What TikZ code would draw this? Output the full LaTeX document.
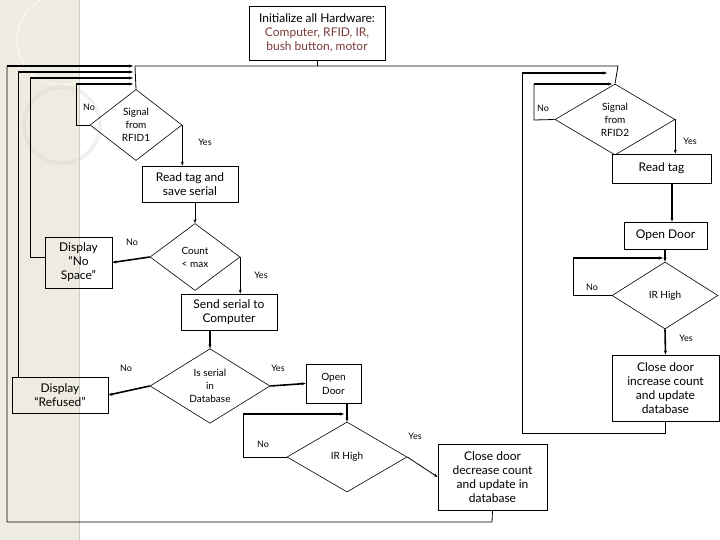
\documentclass[tikz,border=0pt]{standalone}
\usepackage{fontspec}
\setmainfont{Lato}
\usetikzlibrary{shapes.geometric,arrows.meta}
\definecolor{strip}{HTML}{EEECE0}
\definecolor{brn}{HTML}{7A3A3A}
\begin{document}
\begin{tikzpicture}[x=1pt,y=-1pt,
  box/.style={draw,line width=0.8pt,align=center,inner sep=1pt,font=\fontsize{12}{16}\selectfont},
  dia/.style={draw,diamond,line width=0.6pt,align=center,inner sep=0pt,font=\fontsize{10}{13}\selectfont},
  lbl/.style={font=\fontsize{9}{11}\selectfont},
  arr/.style={-{Stealth[length=4pt,width=3pt]},line width=0.8pt},
  thk/.style={-{Stealth[length=4pt,width=3pt]},line width=1.6pt},
  ln/.style={line width=0.8pt}]
\useasboundingbox (0,0) rectangle (720,540);
\fill[strip] (0,0) rectangle (79,540);
\draw[gray!40,line width=1pt] (79,0) -- (79,540);
\draw[white,line width=1pt,opacity=0.7] (62,40) circle (45);
\draw[strip!80!gray,line width=4pt,opacity=0.35] (62,125) circle (38);
% nodes
\node[box,minimum width=136pt,minimum height=54pt] (init) at (317,33) {Initialize all Hardware:\\[-2pt]\textcolor{brn}{Computer, RFID, IR,}\\[-2pt]\textcolor{brn}{bush button, motor}};
\node[dia,minimum width=92pt,minimum height=71pt] (s1) at (136,125) {Signal\\from\\RFID1};
\node[box,minimum width=96pt,minimum height=36pt] (rt) at (190,184) {Read tag and\\[-2pt]save serial};
\node[dia,minimum width=90pt,minimum height=67pt] (cnt) at (195,257) {Count\\< max};
\node[box,minimum width=67pt,minimum height=51pt] (nsp) at (78.5,262.5) {Display\\[-2pt]“No\\[-2pt]Space”};
\node[box,minimum width=96pt,minimum height=36pt] (send) at (229,312) {Send serial to\\[-2pt]Computer};
\node[dia,minimum width=120pt,minimum height=72pt] (db) at (210,386) {Is serial\\in\\Database};
\node[box,minimum width=96pt,minimum height=36pt] (ref) at (60,395) {Display\\[-2pt]“Refused”};
\node[box,minimum width=55pt,minimum height=39pt,font=\fontsize{10}{14}\selectfont] (od1) at (333.5,383.5) {Open\\Door};
\node[dia,minimum width=120pt,minimum height=70pt] (ir1) at (347,457) {IR High};
\node[box,minimum width=109pt,minimum height=66pt] (dec) at (492.5,477) {Close door\\[-2pt]decrease count\\[-2pt]and update in\\[-2pt]database};
\node[dia,minimum width=120pt,minimum height=71pt] (s2) at (615,119.5) {Signal\\from\\RFID2};
\node[box,minimum width=99pt,minimum height=29pt] (rt2) at (661.5,168.5) {Read tag};
\node[box,minimum width=83pt,minimum height=27pt] (od2) at (665.5,235.5) {Open Door};
\node[dia,minimum width=106pt,minimum height=67pt] (ir2) at (665,295.5) {IR High};
\node[box,minimum width=107pt,minimum height=66pt] (inc) at (665.5,388) {Close door\\[-2pt]increase count\\[-2pt]and update\\[-2pt]database};
% labels
\node[lbl] at (89,107) {No};
\node[lbl] at (205,142) {Yes};
\node[lbl] at (132,242) {No};
\node[lbl] at (261,275) {Yes};
\node[lbl] at (126,368) {No};
\node[lbl] at (278,368) {Yes};
\node[lbl] at (263,444) {No};
\node[lbl] at (415,436) {Yes};
\node[lbl] at (543,108) {No};
\node[lbl] at (690,141) {Yes};
\node[lbl] at (592,287) {No};
\node[lbl] at (686,338) {Yes};
% coordinates
\coordinate (j1) at (135,66);
\coordinate (j2) at (618,66);
% top distribution
\draw[ln] (init.south) -- (init.south |- j1);
\draw[ln] (j1) -- (j2) -- (s2.north);
\draw[ln] (j1) -- (s1.north);
% RFID1 branch
\draw[ln] (s1.west) -- (76,125) -- (76,84);
\draw[thk] (76,84) -- (133,84);
\draw[thk] (s1.east) -- (rt.north -| s1.east);
\draw[arr] (rt.south -| cnt.north) -- (cnt.north);
\draw[thk] (cnt.west) -- (nsp.east);
\draw[ln] (nsp.west) ++(0,-5) -- (30,257.5) -- (30,78);
\draw[thk] (30,78) -- (133,78);
\draw[arr] (cnt.east) -- (send.north -| cnt.east);
\draw[thk] (send.south -| db.north) -- (db.north);
\draw[thk] (db.west) -- (ref.east);
\draw[ln] (18,377) -- (18,72);
\draw[thk] (18,72) -- (133,72);
\draw[thk] (db.east) -- (od1.west);
\draw[thk] (od1.south -| ir1.north) -- (ir1.north);
\draw[ln] (ir1.west) -- (243,457) -- (243,414);
\draw[thk] (243,414) -- (344,414);
\draw[arr] (ir1.east) -- (dec.west);
\draw[ln] (dec.south) -- (492,522) -- (7,522) -- (7,66);
\draw[thk] (7,66) -- (133,66);
% RFID2 branch
\draw[ln] (s2.west) -- (534,120) -- (534,84);
\draw[thk] (534,84) -- (612,84);
\draw[thk] (s2.east) -- (rt2.north -| s2.east);
\draw[thk] (672,183) -- (od2.north -| 672,0);
\draw[thk] (665,249) -- (ir2.north);
\draw[ln] (ir2.west) -- (573,295.5) -- (573,258);
\draw[thk] (573,258) -- (663,258);
\draw[thk] (ir2.south) -- (inc.north);
\draw[ln] (inc.south) -- (665.5,433) -- (522,433) -- (522,73);
\draw[thk] (522,73) -- (607,73);
\end{tikzpicture}
\end{document}
